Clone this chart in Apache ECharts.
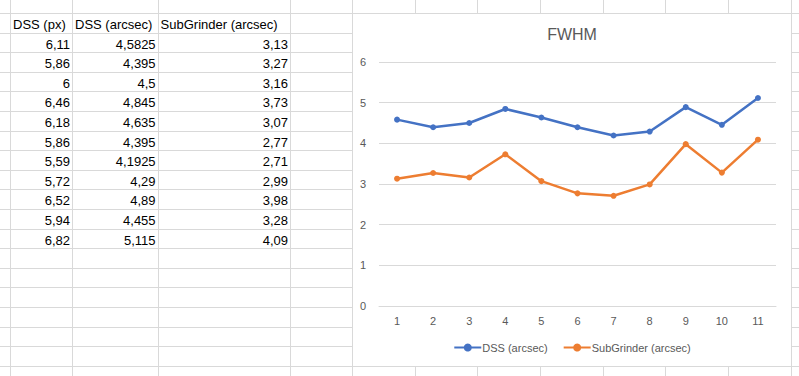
<!DOCTYPE html>
<html>
<head>
<meta charset="utf-8">
<script src="https://cdn.jsdelivr.net/npm/echarts@6/dist/echarts.min.js"></script>
<style>
  html, body { margin: 0; padding: 0; background: #fff; }
  #sheet { position: absolute; left: 0; top: 0; width: 799px; height: 376px; overflow: hidden;
           font-family: "Liberation Sans", Arial, sans-serif; font-size: 13px; color: #000; }
  .cell { position: absolute; box-sizing: border-box; border-right: 1px solid #d9d9d9;
          border-bottom: 1px solid #d9d9d9; padding: 0 2px; white-space: nowrap; overflow: visible; }
  .num { text-align: right; }
  #chart { position: absolute; left: 352px; top: 13px; width: 440px; height: 354px;
           box-sizing: border-box; border: 1px solid #d9d9d9; background: #fff; z-index: 2; }
</style>
</head>
<body>
<div id="sheet"></div>
<div id="chart"></div>
<script>
// spreadsheet columns
const headers = ['DSS (px)', 'DSS (arcsec)', 'SubGrinder (arcsec)'];
const dssPx = [6.11, 5.86, 6, 6.46, 6.18, 5.86, 5.59, 5.72, 6.52, 5.94, 6.82];
const dssArcsec = [4.5825, 4.395, 4.5, 4.845, 4.635, 4.395, 4.1925, 4.29, 4.89, 4.455, 5.115];
const subGrinder = [3.13, 3.27, 3.16, 3.73, 3.07, 2.77, 2.71, 2.99, 3.98, 3.28, 4.09];
const categories = ['1', '2', '3', '4', '5', '6', '7', '8', '9', '10', '11'];

// grid geometry of the sheet
const colW = [11, 62, 85.6, 132.4, 62, 62.7, 62.7, 62.7, 62.7, 62.7, 62.7, 62.7, 62];
const rowH = [14].concat(new Array(19).fill(19.6));

function fmt(v) { return String(v).replace('.', ','); }

const sheet = document.getElementById('sheet');
let y = 0;
rowH.forEach((h, r) => {
  let x = 0;
  colW.forEach((w, c) => {
    const d = document.createElement('div');
    d.className = 'cell';
    d.style.left = x + 'px';
    d.style.top = y + 'px';
    d.style.width = w + 'px';
    d.style.height = h + 'px';
    d.style.lineHeight = (h + 2) + 'px';
    let txt = '';
    if (r === 1 && c >= 1 && c <= 3) txt = headers[c - 1];
    if (r >= 2 && r - 2 < dssPx.length && c >= 1 && c <= 3) {
      const i = r - 2;
      txt = fmt([dssPx, dssArcsec, subGrinder][c - 1][i]);
      d.classList.add('num');
    }
    d.textContent = txt;
    sheet.appendChild(d);
    x += w;
  });
  y += h;
});

const chart = echarts.init(document.getElementById('chart'), null, { renderer: 'svg' });
const textColor = '#595959';
const option = {
  animation: false,
  textStyle: { fontFamily: '"Liberation Sans", Arial, sans-serif' },
  title: {
    text: 'FWHM',
    left: 'center',
    top: 12,
    padding: 0,
    textStyle: { fontSize: 16, fontWeight: 'normal', color: textColor }
  },
  grid: { left: 26, right: 15, top: 48, bottom: 60 },
  legend: {
    bottom: 8,
    left: 'center',
    itemWidth: 27,
    itemHeight: 10,
    itemGap: 15,
    textStyle: { fontSize: 11, color: textColor, padding: [0, 0, 0, -4] },
    data: ['DSS (arcsec)', 'SubGrinder (arcsec)']
  },
  xAxis: {
    type: 'category',
    data: categories,
    boundaryGap: true,
    axisLine: { lineStyle: { color: '#d9d9d9' } },
    axisTick: { show: false },
    axisLabel: { color: textColor, fontSize: 11, margin: 9 }
  },
  yAxis: {
    type: 'value',
    min: 0,
    max: 6,
    interval: 1,
    axisLine: { show: false },
    axisTick: { show: false },
    axisLabel: { color: textColor, fontSize: 11, margin: 13 },
    splitLine: { lineStyle: { color: '#d9d9d9' } }
  },
  series: [
    {
      name: 'DSS (arcsec)',
      type: 'line',
      data: dssArcsec,
      symbol: 'circle',
      symbolSize: 6,
      lineStyle: { width: 2.5, color: '#4472C4' },
      itemStyle: { color: '#4472C4' }
    },
    {
      name: 'SubGrinder (arcsec)',
      type: 'line',
      data: subGrinder,
      symbol: 'circle',
      symbolSize: 6,
      lineStyle: { width: 2.5, color: '#ED7D31' },
      itemStyle: { color: '#ED7D31' }
    }
  ]
};
chart.setOption(option);
</script>
</body>
</html>
